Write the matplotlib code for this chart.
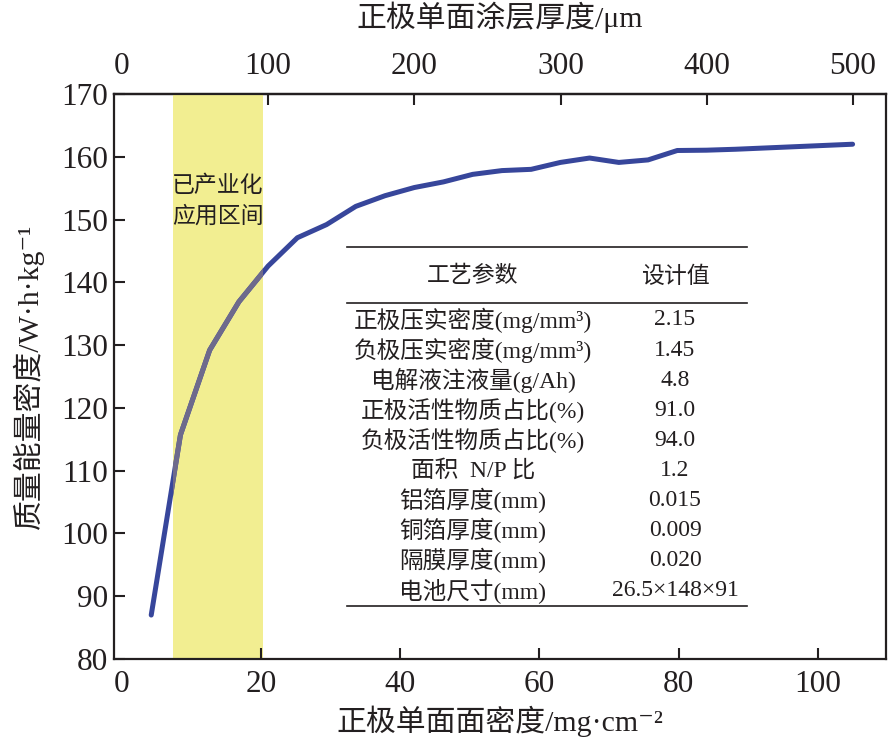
import matplotlib
matplotlib.use("Agg")
import matplotlib.pyplot as plt
from matplotlib.lines import Line2D

# ---------------- data ----------------
areal_density = [4.2, 8.4, 12.6, 16.8, 21.0, 25.2, 29.4, 33.6, 37.8, 42.0,
                 46.2, 50.4, 54.6, 58.8, 63.0, 67.2, 71.4, 75.6, 79.8, 84.0,
                 88.2, 92.4, 96.6, 100.8, 105.0]
energy_density = [87.0, 115.7, 129.2, 136.9, 142.6, 147.1, 149.2, 152.1, 153.8, 155.1,
                  156.0, 157.2, 157.8, 158.0, 159.1, 159.8, 159.1, 159.5, 161.0, 161.05,
                  161.2, 161.4, 161.6, 161.8, 162.0]
band_range = [7.3, 20.2]
band_label = "已产业化\n应用区间"
um_per_mg = 4.76  # coating thickness (μm) per areal density (mg/cm²)

x_ticks = [0, 20, 40, 60, 80, 100]
top_ticks = [0, 100, 200, 300, 400, 500]
y_ticks = [80, 90, 100, 110, 120, 130, 140, 150, 160, 170]

table_header = ["工艺参数", "设计值"]
table_params = ["正极压实密度(mg/mm³)", "负极压实密度(mg/mm³)", "电解液注液量(g/Ah)",
                "正极活性物质占比(%)", "负极活性物质占比(%)", "面积  N/P 比",
                "铝箔厚度(mm)", "铜箔厚度(mm)", "隔膜厚度(mm)", "电池尺寸(mm)"]
table_values = ["2.15", "1.45", "4.8", "91.0", "94.0", "1.2",
                "0.015", "0.009", "0.020", "26.5×148×91"]

xlabel = "正极单面面密度/mg·cm⁻²"
toplabel = "正极单面涂层厚度/μm"
ylabel = "质量能量密度/W·h·kg⁻¹"

# ---------------- style ----------------
FAM = ['Liberation Serif', 'Noto Sans CJK SC', 'DejaVu Sans']
CJK = ['Noto Sans CJK SC', 'Liberation Serif', 'DejaVu Sans']
plt.rcParams['font.family'] = FAM
plt.rcParams['axes.unicode_minus'] = False
INK = '#231f20'

W, H = 891, 748
fig = plt.figure(figsize=(W / 100, H / 100), dpi=100)
L, R, T, B = 114, 886, 94, 659
ax = fig.add_axes([L / W, 1 - B / H, (R - L) / W, (B - T) / H])

line_color = '#37469b'
band_color = '#f2ee91'

span = ax.axvspan(band_range[0], band_range[1], color=band_color, lw=0, zorder=1)
ax.plot(areal_density, energy_density, color=line_color, lw=3.6, zorder=3,
        solid_joinstyle='round', solid_capstyle='round')
ln2, = ax.plot(areal_density, energy_density, color='#6e6a8c', lw=3.6, zorder=4,
               solid_joinstyle='round', solid_capstyle='round')
ln2.set_clip_path(span)

ax.text(sum(band_range) / 2, 153.0, band_label, ha='center', va='center',
        fontsize=16.5, family=CJK, color=INK, linespacing=1.45, zorder=5)

ax.set_xlim(-1.15, 109.8)
ax.set_ylim(80, 170)
ax.set_xticks(x_ticks)
ax.set_yticks(y_ticks)
ax.tick_params(direction='in', length=8, width=1.5, labelsize=22.5, colors=INK)
ax.tick_params(axis='x', pad=8)
ax.tick_params(axis='y', pad=4)
for s in ax.spines.values():
    s.set_linewidth(1.6)
    s.set_color(INK)

ax.set_xlabel(xlabel, fontsize=21.5, labelpad=5, color=INK)
ax.set_ylabel(ylabel, fontsize=21.5, labelpad=13, color=INK)

top = ax.secondary_xaxis('top', functions=(lambda x: x * um_per_mg, lambda t: t / um_per_mg))
top.set_xticks(top_ticks)
top.tick_params(direction='in', length=8, width=1.5, labelsize=22.5, colors=INK, pad=9)
top.spines['top'].set_linewidth(1.6)
top.set_xlabel(toplabel, fontsize=21.5, labelpad=18, color=INK)

fig.canvas.draw()
ax.xaxis.get_major_ticks()[0].tick1line.set_visible(False)
top.xaxis.get_major_ticks()[0].tick2line.set_visible(False)
top.xaxis.get_major_ticks()[0].tick1line.set_visible(False)

# ---------------- table ----------------
def fx(px):
    return px / W

def fy(py):
    return 1 - py / H

c1, c2 = 473, 675
tl, tr = 347, 747
for yy in (247, 303, 606):
    fig.add_artist(Line2D([fx(tl), fx(tr)], [fy(yy), fy(yy)], color=INK, lw=1.2))
fig.text(fx(c1), fy(276), table_header[0], ha='center', va='center', fontsize=16.5, family=CJK, color=INK)
fig.text(fx(c2), fy(276), table_header[1], ha='center', va='center', fontsize=16.5, family=CJK, color=INK)
row0, dy = 320, 30.1
for i, (p, v) in enumerate(zip(table_params, table_values)):
    y = row0 + i * dy
    fig.text(fx(c1), fy(y), p, ha='center', va='center', fontsize=17, family=FAM, color=INK)
    fig.text(fx(c2), fy(y), v, ha='center', va='center', fontsize=17, family=FAM, color=INK)

fig.savefig('out.png', dpi=100)
